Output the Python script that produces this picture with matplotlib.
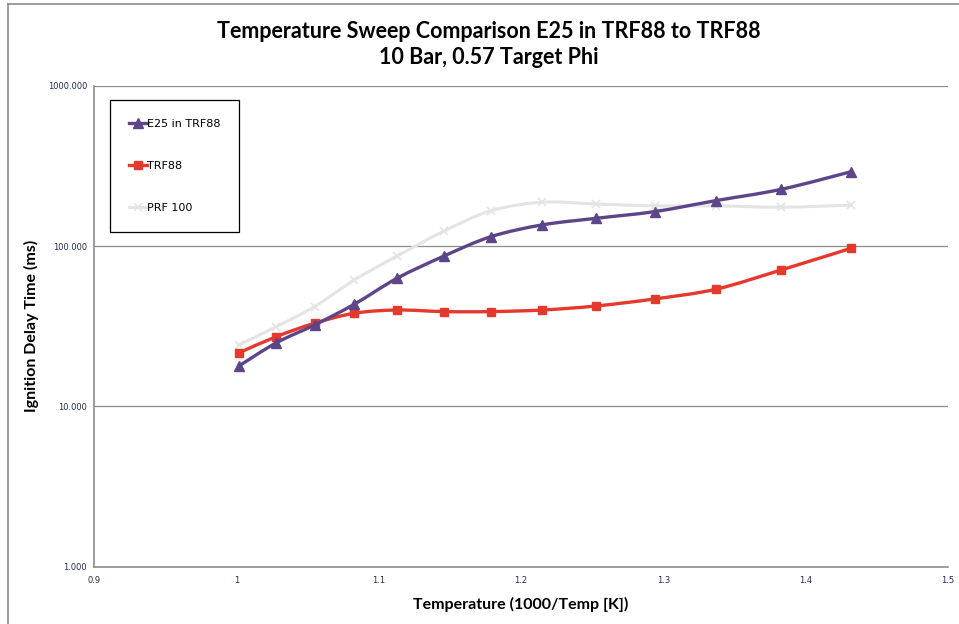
import numpy as np
import matplotlib.pyplot as plt
from matplotlib.path import Path
from matplotlib.patches import PathPatch
from matplotlib.lines import Line2D
from matplotlib.ticker import FixedLocator, FixedFormatter, NullLocator

# data
inv_temp = [1.002, 1.028, 1.055, 1.083, 1.113, 1.146, 1.179, 1.215, 1.253, 1.294, 1.337, 1.383, 1.432]
e25_trf88 = [17.9, 24.9, 32.2, 43.4, 63.0, 86.7, 114.5, 135.5, 149.0, 164.0, 192.0, 226.0, 291.0]
trf88 = [21.6, 27.2, 33.0, 38.1, 39.9, 39.0, 39.0, 39.9, 42.3, 46.8, 53.8, 71.0, 96.9]
prf100 = [24.2, 31.4, 41.9, 61.5, 86.7, 124.0, 166.0, 187.6, 183.0, 178.0, 178.0, 174.6, 180.0]

y_ticks = [1, 10, 100, 1000]
y_labels = ["1.000", "10.000", "100.000", "1000.000"]
x_ticks = [0.9, 1.0, 1.1, 1.2, 1.3, 1.4, 1.5]
x_labels = ["0.9", "1", "1.1", "1.2", "1.3", "1.4", "1.5"]

TICK_COLOR = "#1f2d4d"
GRID_COLOR = "#8c8c8c"


### smooth line like Excel's "smoothed line": Catmull-Rom as cubic Bezier in (x, log y)
def smooth_path(xs, ys):
    px = np.array(xs, dtype=float)
    py = np.log10(np.array(ys, dtype=float))
    verts = [(px[0], 10 ** py[0])]
    codes = [Path.MOVETO]
    n = len(px)
    for i in range(n - 1):
        i0 = max(i - 1, 0)
        i3 = min(i + 2, n - 1)
        c1x = px[i] + (px[i + 1] - px[i0]) / 6
        c1y = py[i] + (py[i + 1] - py[i0]) / 6
        c2x = px[i + 1] - (px[i3] - px[i]) / 6
        c2y = py[i + 1] - (py[i3] - py[i]) / 6
        verts += [(c1x, 10 ** c1y), (c2x, 10 ** c2y), (px[i + 1], 10 ** py[i + 1])]
        codes += [Path.CURVE4] * 3
    return Path(verts, codes)


def draw_series(ax, xs, ys, color, marker, ms, lw, mew=1.0, z=2):
    ax.add_patch(PathPatch(smooth_path(xs, ys), facecolor="none", edgecolor=color,
                           lw=lw, capstyle="round", joinstyle="round", zorder=z))
    ax.plot(xs, ys, linestyle="none", marker=marker, color=color, markersize=ms,
            markeredgewidth=mew, zorder=z + 0.5)


fig = plt.figure(figsize=(9.59, 6.24), dpi=100)
fig.patch.set_facecolor("white")

# outer chart frame (cropped at right and bottom)
fig.add_artist(Line2D([8 / 959, 8 / 959], [0, 1 - 4 / 624], transform=fig.transFigure,
                      color="#8a8a8a", lw=1.2))
fig.add_artist(Line2D([8 / 959, 1], [1 - 4 / 624, 1 - 4 / 624], transform=fig.transFigure,
                      color="#8a8a8a", lw=1.2))

ax = fig.add_axes([94 / 959, 1 - 566.7 / 624, (948 - 94) / 959, (566.7 - 85.7) / 624])
ax.set_yscale("log")
ax.set_xlim(0.9, 1.5)
ax.set_ylim(1, 1000)

for v in [10, 100, 1000]:
    ax.axhline(v, color=GRID_COLOR, lw=0.9, zorder=1)

draw_series(ax, inv_temp, prf100, "#e4e4e4", "x", 6, 2.2, mew=1.2, z=2)
draw_series(ax, inv_temp, trf88, "#e5392d", "s", 6, 2.4, z=3)
draw_series(ax, inv_temp, e25_trf88, "#5c4589", "^", 7, 2.4, z=4)

ax.yaxis.set_major_locator(FixedLocator(y_ticks))
ax.yaxis.set_major_formatter(FixedFormatter(y_labels))
ax.yaxis.set_minor_locator(NullLocator())
ax.xaxis.set_major_locator(FixedLocator(x_ticks))
ax.xaxis.set_major_formatter(FixedFormatter(x_labels))
ax.tick_params(axis="both", length=0, labelsize=6, labelcolor=TICK_COLOR)
ax.tick_params(axis="y", pad=5)
ax.tick_params(axis="x", pad=7)

for side in ["top", "right"]:
    ax.spines[side].set_visible(False)
for side in ["left", "bottom"]:
    ax.spines[side].set_color(GRID_COLOR)
    ax.spines[side].set_linewidth(1.2)

ax.set_xlabel("Temperature (1000/Temp [K])", fontsize=11.5, fontweight="bold",
              family="Lato", labelpad=8)
ax.set_ylabel("Ignition Delay Time (ms)", fontsize=11.5, fontweight="bold",
              family="Lato", labelpad=6)

fig.text(0.51, 1 - 32 / 624, "Temperature Sweep Comparison E25 in TRF88 to TRF88",
         ha="center", va="center", fontsize=15.5, fontweight="bold", family="Lato")
fig.text(0.51, 1 - 58 / 624, "10 Bar, 0.57 Target Phi",
         ha="center", va="center", fontsize=15.5, fontweight="bold", family="Lato")

handles = [
    Line2D([], [], color="#5c4589", marker="^", lw=2.4, markersize=7),
    Line2D([], [], color="#e5392d", marker="s", lw=2.4, markersize=6),
    Line2D([], [], color="#e4e4e4", marker="x", lw=2.2, markersize=6, markeredgewidth=1.2),
]
leg = ax.legend(handles, ["E25 in TRF88", "TRF88", "PRF 100"], loc="upper left",
                bbox_to_anchor=(16 / 854, (566.7 - 100) / 481), borderaxespad=0,
                fontsize=8, labelspacing=2.9, borderpad=1.7, handlelength=1.6,
                handletextpad=0.0, fancybox=False, framealpha=1, edgecolor="black")
leg.get_frame().set_linewidth(0.9)

fig.savefig("out.png", dpi=100)
